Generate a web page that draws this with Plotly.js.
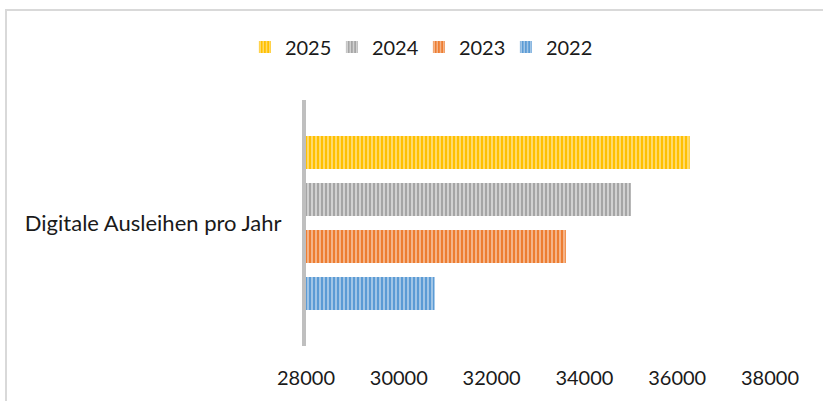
<!DOCTYPE html>
<html>
<head>
<meta charset="utf-8">
<script src="https://cdn.plot.ly/plotly-3.0.1.min.js"></script>
<style>
  html, body { margin: 0; padding: 0; background: #ffffff; }
  #wrap { position: relative; width: 823px; height: 401px; overflow: hidden; }
  #chart { position: absolute; left: 0; top: 0; width: 823px; height: 401px; }
  #frame { position: absolute; left: 5px; top: 9px; width: 830px; height: 400px;
           border-top: 2px solid #D9D9D9; border-left: 2px solid #D9D9D9; pointer-events: none; }
</style>
</head>
<body>
<div id="wrap">
  <div id="chart"></div>
  <div id="frame"></div>
</div>
<script>
const category = ["Digitale Ausleihen pro Jahr"];
const seriesNames = ["2022", "2023", "2024", "2025"];
const values2022 = [30770];
const values2023 = [33600];
const values2024 = [35000];
const values2025 = [36270];
const seriesValues = [values2022, values2023, values2024, values2025];
const xTicks = [28000, 30000, 32000, 34000, 36000, 38000];

const mainColors = ["#5B9BD5", "#ED7D31", "#A5A5A5", "#FFC000"];
const lightColors = ["#BFD7EE", "#F8CBAD", "#E4E4E4", "#FFE699"];

const FONT = "Lato, 'Open Sans', sans-serif";

const traces = seriesNames.map((name, i) => ({
  type: "bar",
  orientation: "h",
  name: name,
  y: category,
  x: seriesValues[i],
  marker: {
    color: mainColors[i],
    line: { width: 0 },
    pattern: { shape: "|", fgcolor: lightColors[i], bgcolor: mainColors[i], size: 4, solidity: 0.35, fillmode: "replace" }
  },
  hoverinfo: "x+name"
}));

const layout = {
  width: 823,
  height: 401,
  margin: { l: 306, r: 53, t: 100, b: 55 },
  paper_bgcolor: "#ffffff",
  plot_bgcolor: "#ffffff",
  barmode: "group",
  bargap: 0.236,
  bargroupgap: 0.298,
  font: { family: FONT, size: 20, color: "#1a1a1a" },
  showlegend: true,
  legend: {
    orientation: "h",
    traceorder: "reversed",
    xref: "container", yref: "container",
    x: 0.509, xanchor: "center",
    y: 0.883, yanchor: "middle",
    font: { family: FONT, size: 20, color: "#1a1a1a" },
    itemwidth: 30,
    entrywidth: 42,
    entrywidthmode: "pixels"
  },
  xaxis: {
    range: [28000, 38000],
    tickvals: xTicks,
    ticktext: xTicks.map(String),
    showgrid: false,
    zeroline: false,
    showline: false,
    ticks: "",
    ticklabelstandoff: 18,
    tickfont: { family: FONT, size: 20, color: "#1a1a1a" },
    fixedrange: true
  },
  yaxis: {
    type: "category",
    showgrid: false,
    zeroline: false,
    showline: true,
    linecolor: "#BFBFBF",
    linewidth: 4,
    ticks: "",
    ticklabelstandoff: 16,
    tickfont: { family: FONT, size: 22, color: "#1a1a1a" },
    fixedrange: true
  }
};

Plotly.newPlot("chart", traces, layout, { staticPlot: true, displayModeBar: false });
</script>
</body>
</html>
